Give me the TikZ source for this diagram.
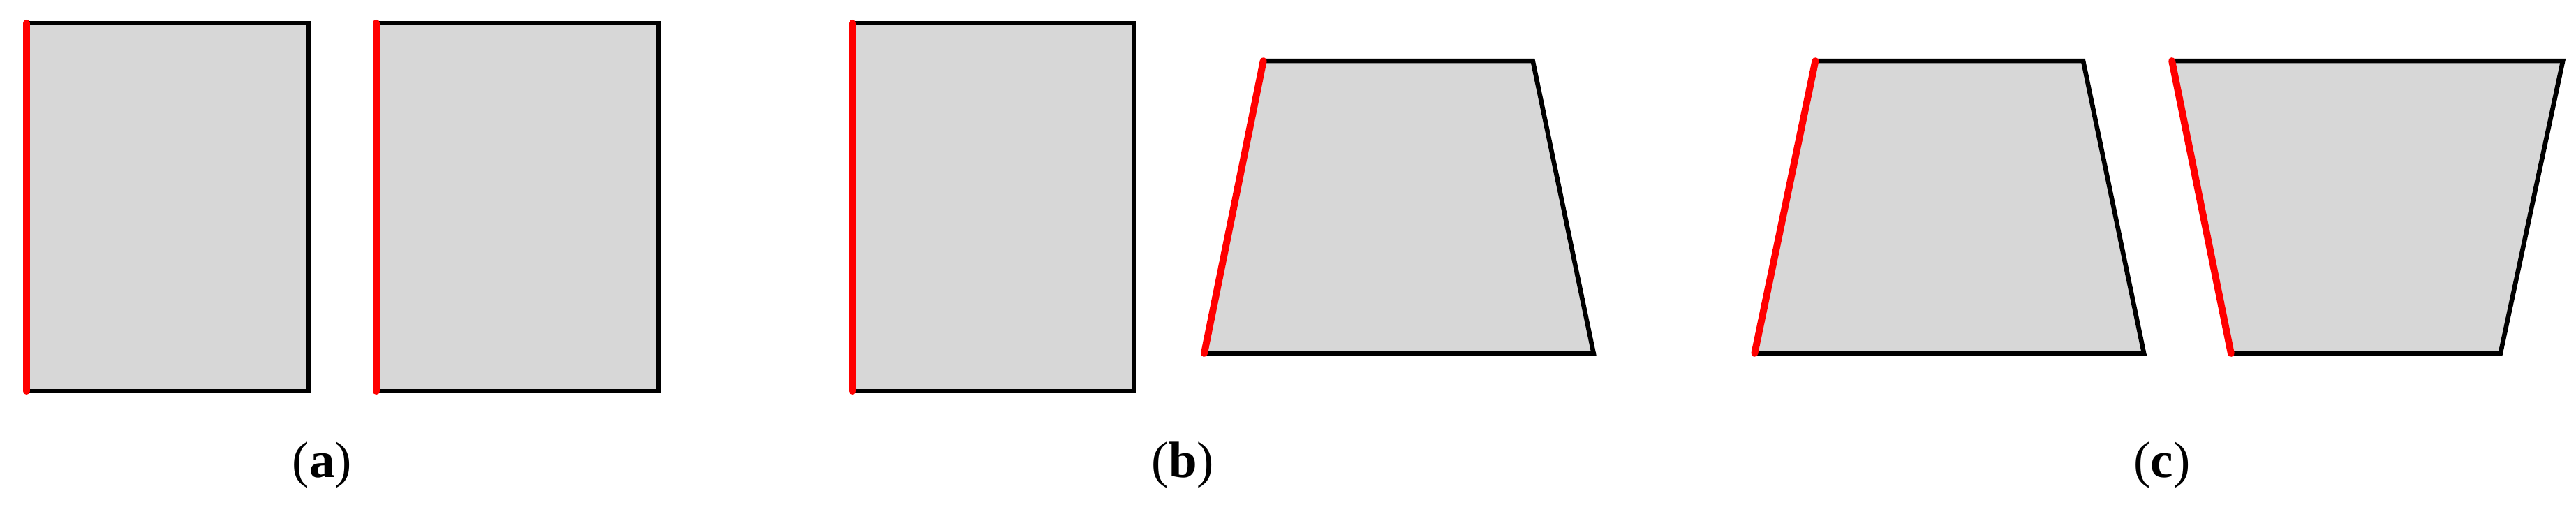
\documentclass[tikz,border=0pt]{standalone}
\usepackage{fontspec}
\setmainfont{Liberation Serif}
\definecolor{fillg}{HTML}{D7D7D7}
\begin{document}
\begin{tikzpicture}[x=1pt,y=-1pt,
  panel/.style={fill=fillg,draw=black,line width=2.8pt,line join=miter},
  redge/.style={draw=red,line width=4.2pt,line cap=round},
  lab/.style={font=\fontsize{31}{36}\selectfont}]
\useasboundingbox (0,0) rectangle (1568,307);
% (a)
\draw[panel] (16,14) coordinate(a1) -- (188,14) -- (188,238) -- (16,238) coordinate(a2) -- cycle;
\draw[redge] (a1) -- (a2);
\draw[panel] (229,14) coordinate(a3) -- (401,14) -- (401,238) -- (229,238) coordinate(a4) -- cycle;
\draw[redge] (a3) -- (a4);
% (b)
\draw[panel] (519,14) coordinate(b1) -- (690,14) -- (690,238) -- (519,238) coordinate(b2) -- cycle;
\draw[redge] (b1) -- (b2);
\draw[panel] (769,37) coordinate(b3) -- (933,37) -- (970,215) -- (733,215) coordinate(b4) -- cycle;
\draw[redge] (b3) -- (b4);
% (c)
\draw[panel] (1105,37) coordinate(c1) -- (1268,37) -- (1305,215) -- (1068,215) coordinate(c2) -- cycle;
\draw[redge] (c1) -- (c2);
\draw[panel] (1322,37) coordinate(c3) -- (1560,37) -- (1522,215) -- (1358,215) coordinate(c4) -- cycle;
\draw[redge] (c3) -- (c4);
\node[lab] (la) at (196,283) {(\textbf{a})};
\node[lab] (lb) at (720,283) {(\textbf{b})};
\node[lab] (lc) at (1316,283) {(\textbf{c})};
\end{tikzpicture}
\end{document}
